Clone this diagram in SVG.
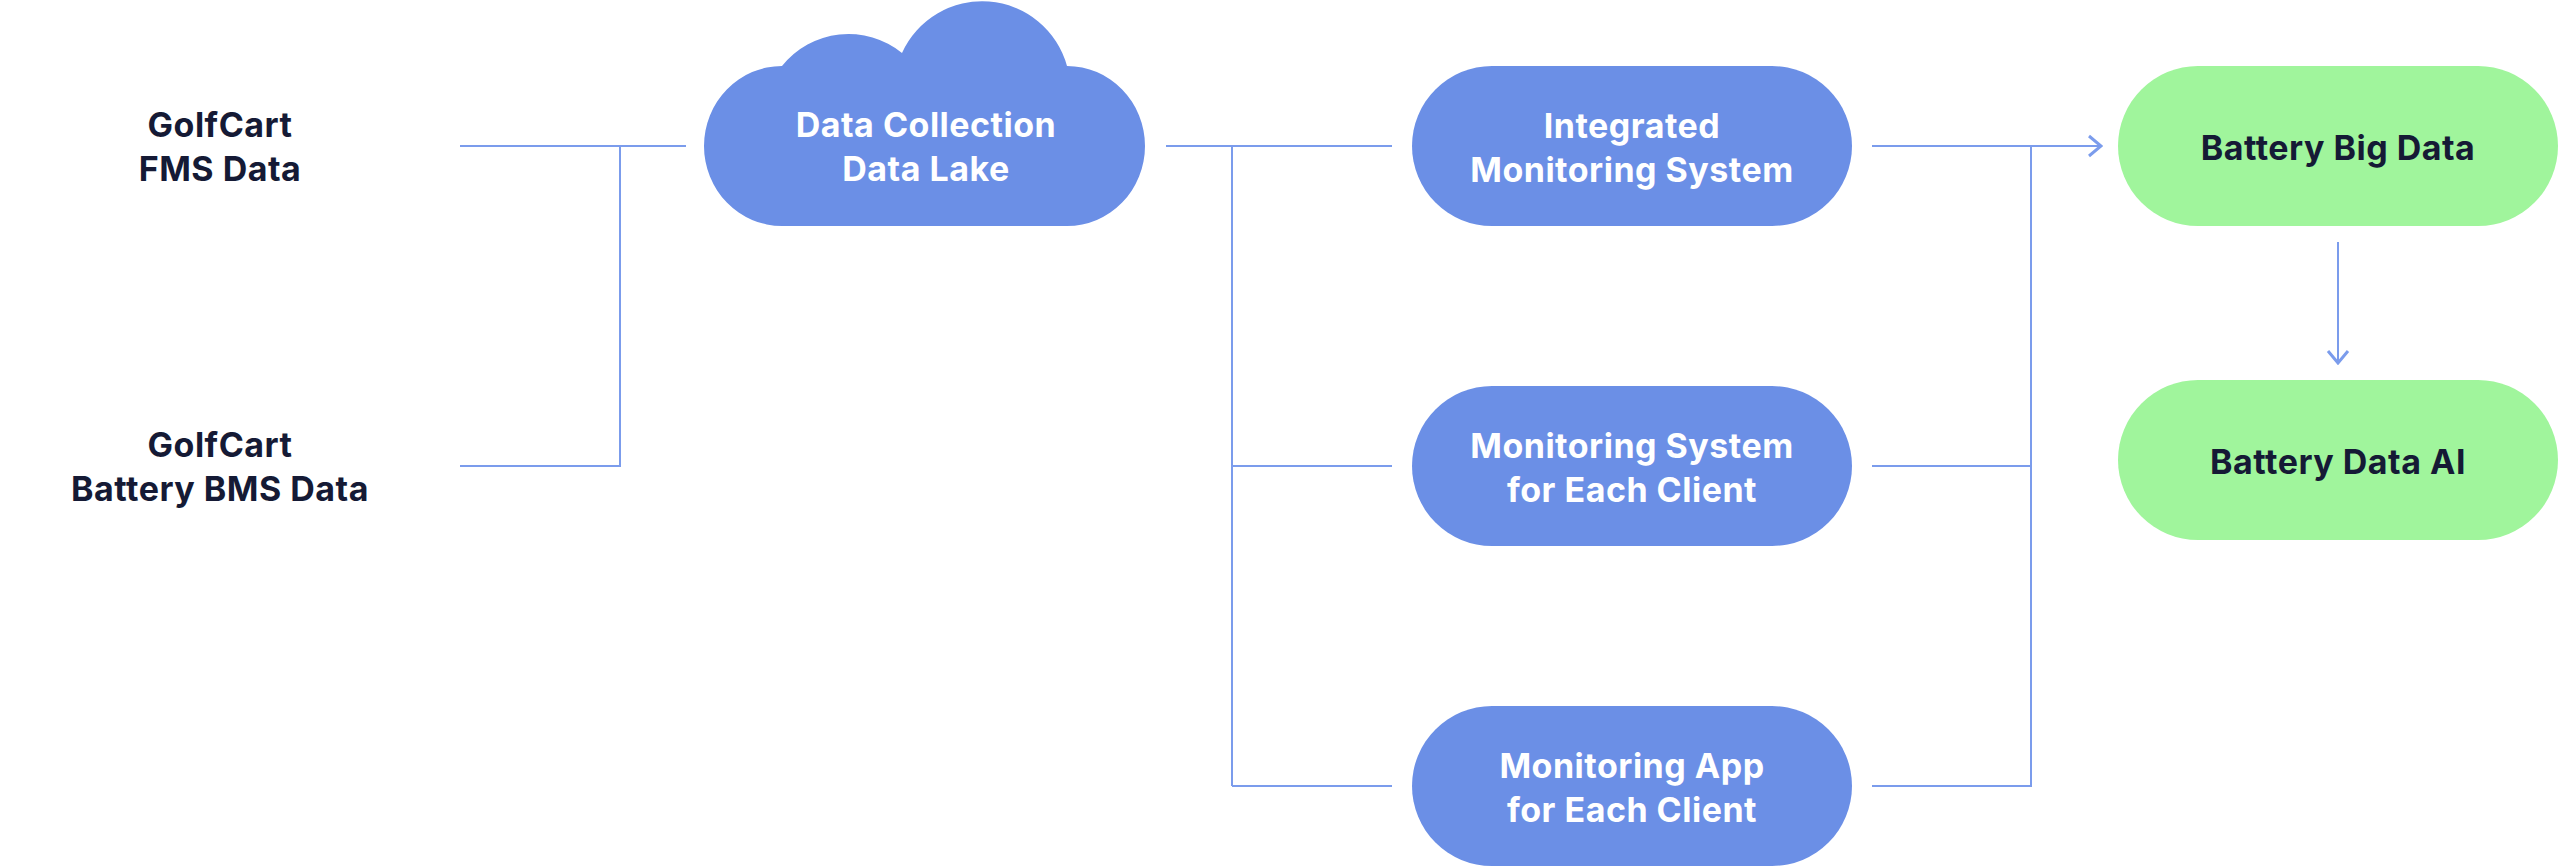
<svg xmlns="http://www.w3.org/2000/svg" width="2558" height="866" viewBox="0 0 2558 866">
<style>
.t{font-family:Inter,"Noto Sans","Liberation Sans",sans-serif;font-size:34px;font-weight:700;letter-spacing:0.5px;text-anchor:middle}
.dk{fill:#151A35}
.wh{fill:#FFFFFF}
.blue{fill:#6B8FE6}
.green{fill:#A0F59C}
.ln{fill:none;stroke:#7B9CEC;stroke-width:2}
</style>
<defs>
<marker id="chev" viewBox="0 0 16 24" markerWidth="16" markerHeight="24" refX="14" refY="12" orient="auto" markerUnits="userSpaceOnUse">
<path d="M2 2 L14 12 L2 22" fill="none" stroke="#7B9CEC" stroke-width="3"/>
</marker>
</defs>
<rect width="2558" height="866" fill="#FFFFFF"/>
<g id="connectors">
<path class="ln" d="M460 146 H686"/>
<path class="ln" d="M460 466 H620 V146"/>
<path class="ln" d="M1166 146 H1392"/>
<path class="ln" d="M1232 146 V786"/>
<path class="ln" d="M1232 466 H1392"/>
<path class="ln" d="M1232 786 H1392"/>
<path class="ln" d="M1872 146 H2101" marker-end="url(#chev)"/>
<path class="ln" d="M1872 466 H2031"/>
<path class="ln" d="M1872 786 H2031 V146"/>
<path class="ln" d="M2338 242 V363" marker-end="url(#chev)"/>
</g>
<g id="fms">
<text class="t dk" x="220" y="137">GolfCart</text>
<text class="t dk" x="220" y="181">FMS Data</text>
</g>
<g id="bms">
<text class="t dk" x="220" y="457">GolfCart</text>
<text class="t dk" x="220" y="501">Battery BMS Data</text>
</g>
<g id="datalake">
<path class="blue" d="M782 226 A78 80 0 0 1 782 66 A85 85 0 0 1 902 53 A88 88 0 0 1 1067 66 A78 80 0 0 1 1067 226 Z"/>
<text class="t wh" x="926" y="137">Data Collection</text>
<text class="t wh" x="926" y="181">Data Lake</text>
</g>
<g id="integrated">
<rect class="blue" x="1412" y="66" width="440" height="160" rx="80"/>
<text class="t wh" x="1632" y="138">Integrated</text>
<text class="t wh" x="1632" y="182">Monitoring System</text>
</g>
<g id="client-system">
<rect class="blue" x="1412" y="386" width="440" height="160" rx="80"/>
<text class="t wh" x="1632" y="458">Monitoring System</text>
<text class="t wh" x="1632" y="502">for Each Client</text>
</g>
<g id="client-app">
<rect class="blue" x="1412" y="706" width="440" height="160" rx="80"/>
<text class="t wh" x="1632" y="778">Monitoring App</text>
<text class="t wh" x="1632" y="822">for Each Client</text>
</g>
<g id="bigdata">
<rect class="green" x="2118" y="66" width="440" height="160" rx="80"/>
<text class="t dk" x="2338" y="160">Battery Big Data</text>
</g>
<g id="dataai">
<rect class="green" x="2118" y="380" width="440" height="160" rx="80"/>
<text class="t dk" x="2338" y="474">Battery Data AI</text>
</g>
</svg>
